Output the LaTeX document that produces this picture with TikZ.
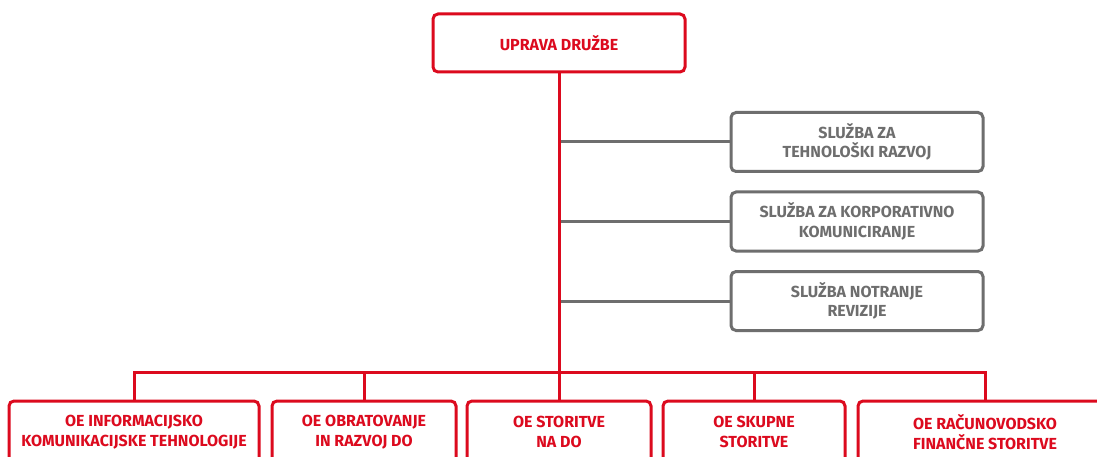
\documentclass[tikz,border=0pt]{standalone}
\usepackage{fontspec}
\setmainfont{Fira Sans}
\definecolor{hred}{HTML}{DC0A1E}
\definecolor{hgray}{HTML}{6E6E6E}
\tikzset{
  redbox/.style={draw=hred, line width=3pt, rounded corners=5pt, fill=white, align=center,
    text=hred, font=\fontsize{16}{19.5}\selectfont\bfseries, inner sep=0pt},
  graybox/.style={draw=hgray, line width=3pt, rounded corners=5pt, fill=white, align=center,
    text=hgray, font=\fontsize{16}{19.5}\selectfont\bfseries, inner sep=0pt,
    minimum width=252pt, minimum height=59pt},
  redline/.style={draw=hred, line width=3pt},
  grayline/.style={draw=hgray, line width=3pt}
}
\begin{document}
\begin{tikzpicture}[x=1pt,y=-1pt]
\useasboundingbox (0,0) rectangle (1097,457);
\clip (0,0) rectangle (1097,457);
\fill[white] (0,0) rectangle (1097,457);
\node[redbox, minimum width=252pt, minimum height=58pt] (top) at (559,43) {UPRAVA DRUŽBE};
\node[graybox] (g1) at (857,142) {SLUŽBA ZA\\TEHNOLOŠKI RAZVOJ};
\node[graybox] (g2) at (857,221.5) {SLUŽBA ZA KORPORATIVNO\\KOMUNICIRANJE};
\node[graybox] (g3) at (857,301) {SLUŽBA NOTRANJE\\REVIZIJE};
\node[redbox, minimum width=250pt, minimum height=62pt] (b1) at (134,432) {OE INFORMACIJSKO\\KOMUNIKACIJSKE TEHNOLOGIJE};
\node[redbox, minimum width=184pt, minimum height=62pt] (b2) at (364,432) {OE OBRATOVANJE\\IN RAZVOJ DO};
\node[redbox, minimum width=184pt, minimum height=62pt] (b3) at (559,432) {OE STORITVE\\NA DO};
\node[redbox, minimum width=182pt, minimum height=62pt] (b4) at (754,432) {OE SKUPNE\\STORITVE};
\node[redbox, minimum width=254pt, minimum height=62pt] (b5) at (985,432) {OE RAČUNOVODSKO\\FINANČNE STORITVE};
\coordinate (j) at (559,372);
\draw[grayline] (g1.west) -- (g1.west -| top.south);
\draw[grayline] (g2.west) -- (g2.west -| top.south);
\draw[grayline] (g3.west) -- (g3.west -| top.south);
\draw[redline] (top.south) -- (j);
\draw[redline] (b1.north) -- (b1.north |- j) -- (b5.north |- j) -- (b5.north);
\draw[redline] (b2.north) -- (b2.north |- j);
\draw[redline] (b3.north) -- (b3.north |- j);
\draw[redline] (b4.north) -- (b4.north |- j);
\end{tikzpicture}
\end{document}
